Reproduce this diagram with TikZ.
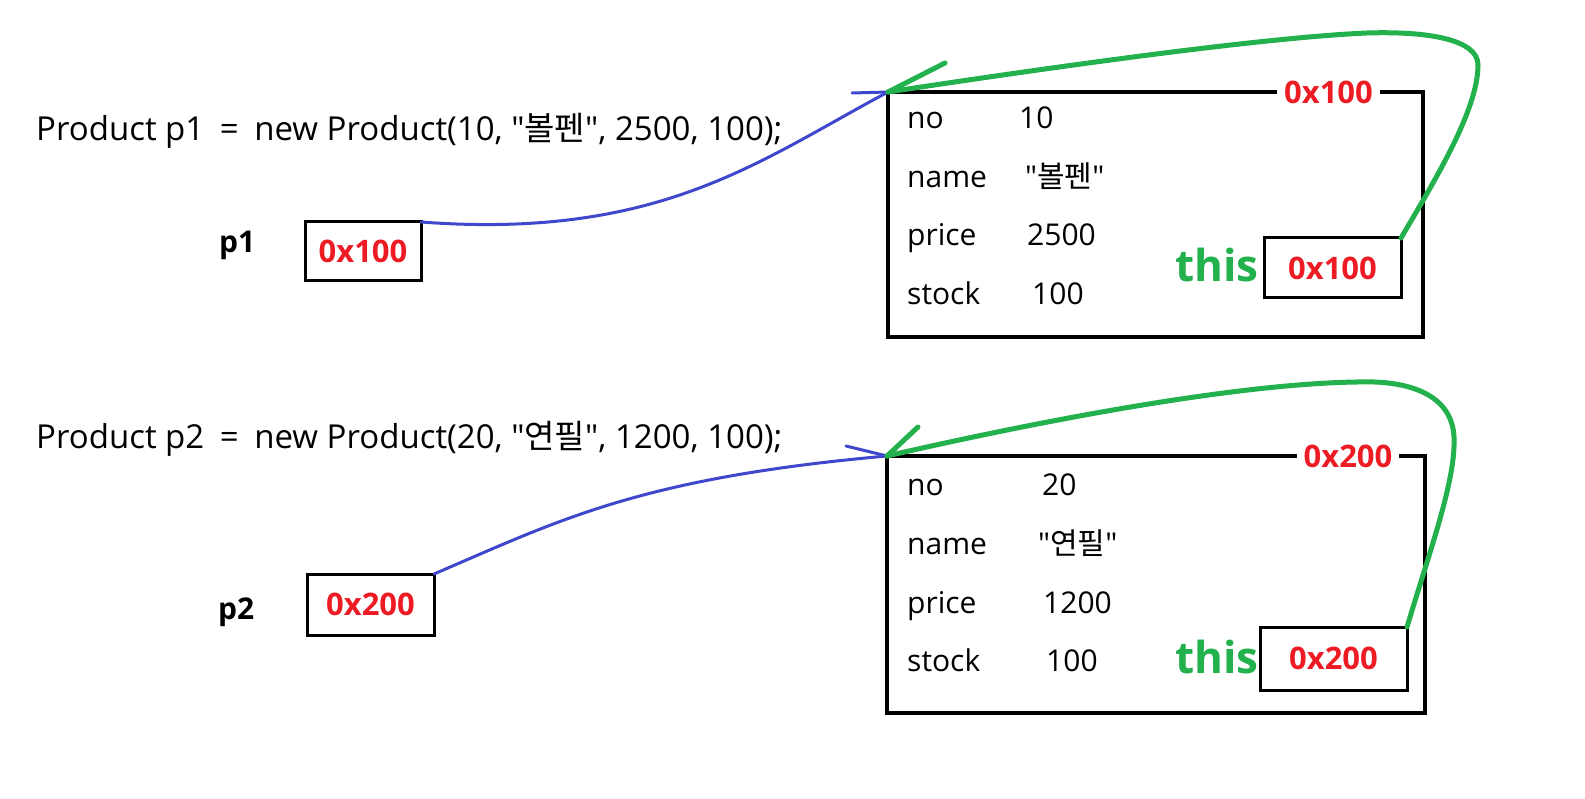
\documentclass[tikz,border=0pt]{standalone}
\usepackage{fontspec}
\setmainfont{Open Sans}[Ligatures=TeXOff]
\newfontfamily\kr{Noto Sans CJK KR}
\definecolor{pgreen}{HTML}{22B14C}
\definecolor{pred}{HTML}{ED1C24}
\definecolor{pblue}{HTML}{3F48CC}
\newcommand\eqgap{\hspace{7pt}}
\begin{document}
\begin{tikzpicture}[x=1pt,y=-1pt,
  code/.style={anchor=base west, inner sep=0pt, font=\fontsize{33}{40}\selectfont},
  field/.style={anchor=base west, inner sep=0pt, font=\fontsize{30}{36}\selectfont},
  objbox/.style={draw, line width=4.5pt, inner sep=0pt, outer sep=0pt},
  refbox/.style={draw, line width=3pt, inner sep=0pt, outer sep=0pt, text=pred, font=\bfseries\fontsize{31}{36}\selectfont},
  addr/.style={fill=white, inner xsep=7pt, inner ysep=2pt, text=pred, font=\bfseries\fontsize{31}{36}\selectfont},
  thislbl/.style={anchor=base west, inner sep=0pt, text=pgreen, font=\bfseries\fontsize{44}{50}\selectfont},
  varlbl/.style={anchor=base west, inner sep=0pt, font=\bfseries\fontsize{30}{34}\selectfont},
  bluelink/.style={draw=pblue, line width=3pt, line cap=round},
  greenlink/.style={draw=pgreen, line width=5pt, line cap=round},
]
\useasboundingbox[fill=white] (0,0) rectangle (1585,799);

% ---------- first object ----------
\node[code] (c1) at (36,141) {Product p1\eqgap{} = \eqgap{}new Product(10, "{\kr 볼펜}", 2500, 100);};
\node[varlbl] (v1) at (219,253) {p1};
\node[refbox, minimum width=116pt, minimum height=59pt] (r1) at (363,251.5) {0x100};

\node[objbox, minimum width=535pt, minimum height=245pt] (o1) at (1155.5,214.5) {};
\node[addr] (a1) at (1328.5,92) {0x100};
\node[field] (f1a) at (907,129) {no};
\node[field] (f1b) at (907,188) {name};
\node[field] (f1c) at (907,246) {price};
\node[field] (f1d) at (907,305) {stock};
\node[field] (g1a) at (1019,129) {10};
\node[field] (g1b) at (1025,188) {"{\kr 볼펜}"};
\node[field] (g1c) at (1027,246) {2500};
\node[field] (g1d) at (1032,305) {100};
\node[thislbl] (h1) at (1175,282) {this};
\node[refbox, minimum width=137pt, minimum height=60pt] (t1) at (1332.5,268) {0x100};

\coordinate (bb1) at (852,93);
\coordinate (gb1) at (945,63);
\draw[bluelink] (r1.north east) .. controls (660,240) and (760,160) .. (o1.north west);
\draw[bluelink] (bb1) -- (o1.north west);
\draw[greenlink] (t1.north east) .. controls (1435,180) and (1478,110) .. (1478,65)
  .. controls (1478,40) and (1430,31) .. (1367,33)
  .. controls (1250,38) and (1000,75) .. (o1.north west);
\draw[greenlink] (gb1) -- (o1.north west);

% ---------- second object ----------
\node[code] (c2) at (36,448) {Product p2\eqgap{} = \eqgap{}new Product(20, "{\kr 연필}", 1200, 100);};
\node[varlbl] (v2) at (218,619) {p2};
\node[refbox, minimum width=127pt, minimum height=61pt] (r2) at (370.5,604.5) {0x200};

\node[objbox, minimum width=538pt, minimum height=257pt] (o2) at (1156,584.5) {};
\node[addr] (a2) at (1348,456) {0x200};
\node[field] (f2a) at (907,495) {no};
\node[field] (f2b) at (907,554) {name};
\node[field] (f2c) at (907,613) {price};
\node[field] (f2d) at (907,671) {stock};
\node[field] (g2a) at (1042,495) {20};
\node[field] (g2b) at (1038,554) {"{\kr 연필}"};
\node[field] (g2c) at (1043,613) {1200};
\node[field] (g2d) at (1046,671) {100};
\node[thislbl] (h2) at (1175,673) {this};
\node[refbox, minimum width=147pt, minimum height=63pt] (t2) at (1333.5,658.5) {0x200};

\coordinate (bb2) at (846,446);
\coordinate (gb2) at (918,427);
\draw[bluelink] (r2.north east) .. controls (560,520) and (640,478) .. (o2.north west);
\draw[bluelink] (bb2) -- (o2.north west);
\draw[greenlink] (t2.north east) .. controls (1430,550) and (1456,480) .. (1454,437)
  .. controls (1452,395) and (1410,380) .. (1357,382)
  .. controls (1220,384) and (1000,430) .. (o2.north west);
\draw[greenlink] (gb2) -- (o2.north west);
\end{tikzpicture}
\end{document}
